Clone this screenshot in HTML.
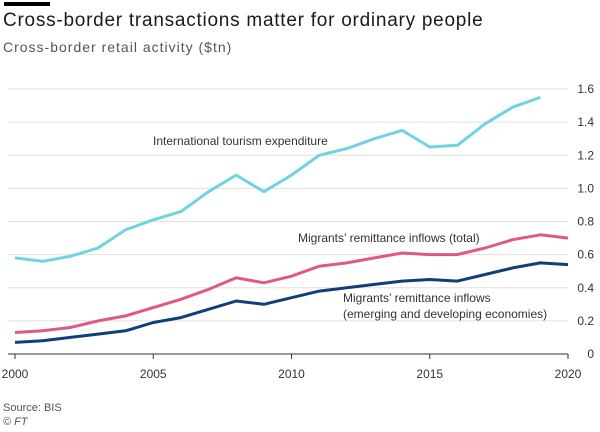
<!DOCTYPE html>
<html><head><meta charset="utf-8"><style>
body{margin:0;background:#fff;font-family:"Liberation Sans",sans-serif;}
#wrap{position:relative;width:600px;height:432px;overflow:hidden;background:#fff;}
.t{position:absolute;white-space:nowrap;}
</style></head><body>
<div id="wrap">
<div style="position:absolute;left:4px;top:2px;width:46px;height:4px;background:#000"></div>
<div class="t" style="left:3px;top:10px;font-size:19px;letter-spacing:0.75px;color:#1a1a1a">Cross-border transactions matter for ordinary people</div>
<div class="t" style="left:3px;top:39px;font-size:14px;letter-spacing:1px;color:#555">Cross-border retail activity ($tn)</div>
<svg id="svg" width="600" height="432" style="position:absolute;left:0;top:0"></svg>
<div class="t" style="left:3px;top:402px;font-size:11px;color:#555">Source: BIS</div>
<div class="t" style="left:3px;top:416px;font-size:11px;color:#555;font-style:italic">© FT</div>
</div>
<script>
const years=[2000,2001,2002,2003,2004,2005,2006,2007,2008,2009,2010,2011,2012,2013,2014,2015,2016,2017,2018,2019,2020];
const tourism=[0.58,0.56,0.59,0.64,0.75,0.81,0.86,0.98,1.08,0.98,1.08,1.20,1.24,1.30,1.35,1.25,1.26,1.39,1.49,1.55,null];
const remitTotal=[0.13,0.14,0.16,0.20,0.23,0.28,0.33,0.39,0.46,0.43,0.47,0.53,0.55,0.58,0.61,0.60,0.60,0.64,0.69,0.72,0.70];
const remitEmerging=[0.07,0.08,0.10,0.12,0.14,0.19,0.22,0.27,0.32,0.30,0.34,0.38,0.40,0.42,0.44,0.45,0.44,0.48,0.52,0.55,0.54];
const yTicks=[0,0.2,0.4,0.6,0.8,1.0,1.2,1.4,1.6];
const xTicks=[2000,2005,2010,2015,2020];
const NS="http://www.w3.org/2000/svg";
const svg=document.getElementById('svg');
const X0=15,X1=568,Y0=354,Y1=89;
const x=v=>X0+(v-2000)/20*(X1-X0);
const y=v=>Y0-v/1.6*(Y0-Y1);
function mk(tag,attrs){const e=document.createElementNS(NS,tag);for(const k in attrs)e.setAttribute(k,attrs[k]);svg.appendChild(e);return e;}
yTicks.forEach(v=>{
 if(v>0){const g=mk('line',{x1:8,x2:X1,y1:y(v),y2:y(v),stroke:'#e3e0dc','stroke-width':1});
 
 }
 const t=mk('text',{x:594,y:y(v)+4,'text-anchor':'end','font-size':12,fill:'#333','font-family':'Liberation Sans, sans-serif'});
 t.textContent=v===0?'0':v.toFixed(1);
 
 
});
const ax=mk('line',{x1:8,x2:X1,y1:Y0,y2:Y0,stroke:'#333','stroke-width':1});


xTicks.forEach(v=>{
 const tk=mk('line',{x1:x(v),x2:x(v),y1:Y0,y2:Y0+5,stroke:'#333'});
 
 
 const t=mk('text',{x:x(v),y:Y0+24,'text-anchor':'middle','font-size':12,fill:'#333','font-family':'Liberation Sans, sans-serif'});
 t.textContent=v;
 
 
});
function line(data,color,name){
 const pts=[];data.forEach((v,i)=>{if(v!=null)pts.push(x(years[i]).toFixed(1)+','+y(v).toFixed(1));});
 const p=mk('polyline',{points:pts.join(' '),fill:'none',stroke:color,'stroke-width':3,'stroke-linejoin':'round'});
 
 
}
line(tourism,'#6fd4e0','tourism-line');
line(remitTotal,'#e0578a','remittance-total-line');
line(remitEmerging,'#0e3f7a','remittance-emerging-line');
function lab(txt,lx,ly,name){const t=mk('text',{x:lx,y:ly,'font-size':12,fill:'#333','font-family':'Liberation Sans, sans-serif'});t.textContent=txt;
 
 }
lab('International tourism expenditure',153,145,'tourism-label');
lab('Migrants\u2019 remittance inflows (total)',298,242,'remittance-total-label');
lab('Migrants\u2019 remittance inflows',343,302,'remittance-emerging-label');
lab('(emerging and developing economies)',343,318,'remittance-emerging-label-2');
</script>
</body></html>
